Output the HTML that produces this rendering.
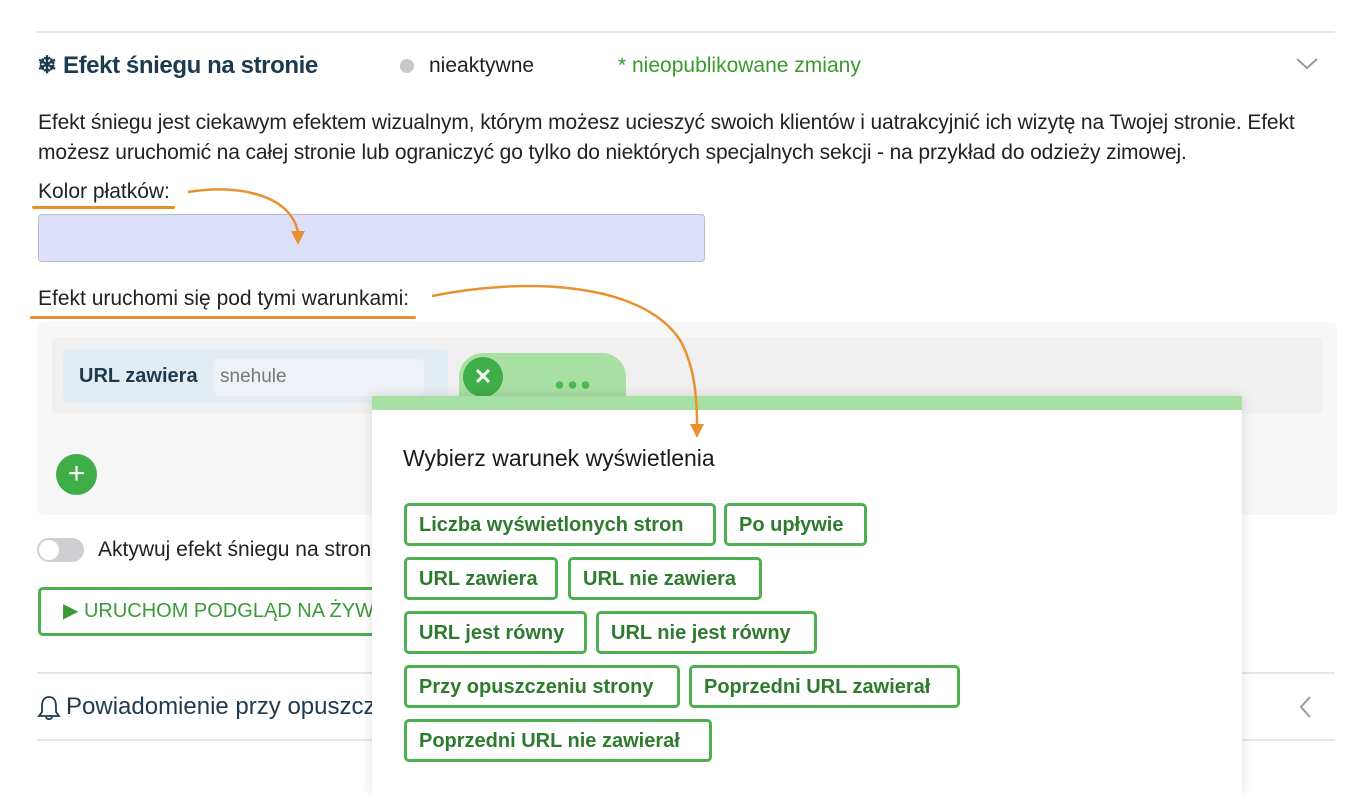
<!DOCTYPE html>
<html><head><meta charset="utf-8"><style>
*{margin:0;padding:0;box-sizing:border-box}
body{width:1360px;height:784px;overflow:hidden;background:#fff;font-family:"Liberation Sans",sans-serif;position:relative;color:#222}
.a{position:absolute;white-space:nowrap}
.hr{position:absolute;height:2px;background:#e6e6e6}
.btn{position:absolute;height:43px;border:3px solid #4caf50;border-radius:5px;color:#2e7a2e;font-weight:bold;font-size:20px;line-height:39px;padding-left:12px;white-space:nowrap;background:#fff}
</style></head><body>
<div class="hr" style="left:37px;top:31px;width:1298px"></div>
<div class="a" style="left:37px;top:51px;font-size:24px;color:#1d3a4f;font-weight:bold;letter-spacing:-0.4px">❄ Efekt śniegu na stronie</div>
<div class="a" style="left:400px;top:59px;width:14px;height:14px;border-radius:50%;background:#c8c8c8"></div>
<div class="a" style="left:429px;top:54px;font-size:21px">nieaktywne</div>
<div class="a" style="left:618px;top:54px;font-size:21px;color:#3a9a2e">* nieopublikowane zmiany</div>
<svg class="a" style="left:1295px;top:56px" width="24" height="16"><path d="M2 3 L12 12 L22 3" fill="none" stroke="#999" stroke-width="2"/></svg>
<div class="a" style="left:38px;top:108px;font-size:21px;line-height:30px;letter-spacing:-0.13px">Efekt śniegu jest ciekawym efektem wizualnym, którym możesz ucieszyć swoich klientów i uatrakcyjnić ich wizytę na Twojej stronie. Efekt<br>możesz uruchomić na całej stronie lub ograniczyć go tylko do niektórych specjalnych sekcji - na przykład do odzieży zimowej.</div>
<div class="a" style="left:38px;top:180px;font-size:21px">Kolor płatków:</div>
<div class="a" style="left:32px;top:206px;width:143px;height:3px;background:#e8912e;border-radius:2px"></div>
<div class="a" style="left:38px;top:214px;width:667px;height:48px;background:#dde0fb;border:1.5px solid #bcbcc8;border-radius:4px"></div>
<div class="a" style="left:38px;top:287px;font-size:21px">Efekt uruchomi się pod tymi warunkami:</div>
<div class="a" style="left:30px;top:316px;width:386px;height:3px;background:#e8912e;border-radius:2px"></div>
<div class="a" style="left:37px;top:322px;width:1300px;height:193px;background:#f7f7f7;border-radius:6px"></div>
<div class="a" style="left:52px;top:337px;width:1270px;height:77px;background:#f0f0f0;border-radius:4px"></div>
<div class="a" style="left:63px;top:349px;width:385px;height:54px;background:#e4ecf3;border-radius:5px"></div>
<div class="a" style="left:79px;top:365px;font-size:20px;font-weight:bold;color:#1d3a4f">URL zawiera</div>
<div class="a" style="left:214px;top:359px;width:210px;height:37px;background:#eef2f6;border-radius:5px;font-size:19px;color:#777;padding:7px 0 0 6px">snehule</div>
<div class="a" style="left:459px;top:353px;width:167px;height:50px;background:#a8e0a4;border-radius:24px 24px 0 0"></div>
<div class="a" style="left:463px;top:357px;width:40px;height:40px;border-radius:50%;background:#3fae49;color:#fff;font-size:22px;font-weight:bold;text-align:center;line-height:40px">✕</div>
<div class="a" style="left:553px;top:381px;width:40px;height:8px;background:radial-gradient(circle,#4cb84f 3.5px,transparent 4px) 0 0/13px 8px repeat-x"></div>
<div class="a" style="left:56px;top:454px;width:41px;height:41px;border-radius:50%;background:#3fae49;color:#fff;font-size:30px;text-align:center;line-height:40px">+</div>
<div class="a" style="left:37px;top:538px;width:47px;height:24px;border-radius:12px;background:#cfcfd3"></div>
<div class="a" style="left:39px;top:540px;width:20px;height:20px;border-radius:50%;background:#fff"></div>
<div class="a" style="left:98px;top:538px;font-size:21px">Aktywuj efekt śniegu na stronie</div>
<div class="a" style="left:38px;top:587px;width:400px;height:49px;border:3px solid #4caf50;border-radius:5px;color:#3a9a3a;font-size:20px;line-height:43px;padding-left:22px">▶ URUCHOM PODGLĄD NA ŻYWO</div>
<div class="hr" style="left:37px;top:672px;width:1298px"></div>
<svg class="a" style="left:37px;top:695px" width="24" height="26"><path d="M12 2 C6 2 5 7 5 12 L5 17 L2 21 L22 21 L19 17 L19 12 C19 7 18 2 12 2 Z M9 22 C10 25 14 25 15 22" fill="none" stroke="#1d3a4f" stroke-width="1.8"/></svg>
<div class="a" style="left:66px;top:693px;font-size:24px;color:#1d3a4f">Powiadomienie przy opuszczeniu strony</div>
<svg class="a" style="left:1298px;top:695px" width="16" height="24"><path d="M12 2 L3 12 L12 22" fill="none" stroke="#999" stroke-width="2"/></svg>
<div class="hr" style="left:37px;top:739px;width:1298px"></div>

<div class="a" style="left:372px;top:396px;width:870px;height:400px;background:#fff;box-shadow:0 0 12px rgba(0,0,0,0.12);border-top:14px solid #a8e0a4"></div>
<div class="a" style="left:403px;top:445px;font-size:23px;color:#1a1a1a">Wybierz warunek wyświetlenia</div>
<div class="btn" style="left:404px;top:503px;width:312px">Liczba wyświetlonych stron</div>
<div class="btn" style="left:724px;top:503px;width:143px">Po upływie</div>
<div class="btn" style="left:404px;top:557px;width:154px">URL zawiera</div>
<div class="btn" style="left:568px;top:557px;width:194px">URL nie zawiera</div>
<div class="btn" style="left:404px;top:611px;width:183px">URL jest równy</div>
<div class="btn" style="left:596px;top:611px;width:221px">URL nie jest równy</div>
<div class="btn" style="left:404px;top:665px;width:276px">Przy opuszczeniu strony</div>
<div class="btn" style="left:689px;top:665px;width:271px">Poprzedni URL zawierał</div>
<div class="btn" style="left:404px;top:719px;width:308px">Poprzedni URL nie zawierał</div>

<svg class="a" style="left:0;top:0" width="1360" height="784">
<path d="M188 192 C240 184 290 195 298 232" fill="none" stroke="#e8912e" stroke-width="2.5"/>
<path d="M291 231 L305 231 L298 245 Z" fill="#e8912e"/>
<path d="M432 296 C520 278 640 280 680 340 C694 365 697 395 697 425" fill="none" stroke="#e8912e" stroke-width="2.5"/>
<path d="M690 424 L704 424 L697 438 Z" fill="#e8912e"/>
</svg>
</body></html>
